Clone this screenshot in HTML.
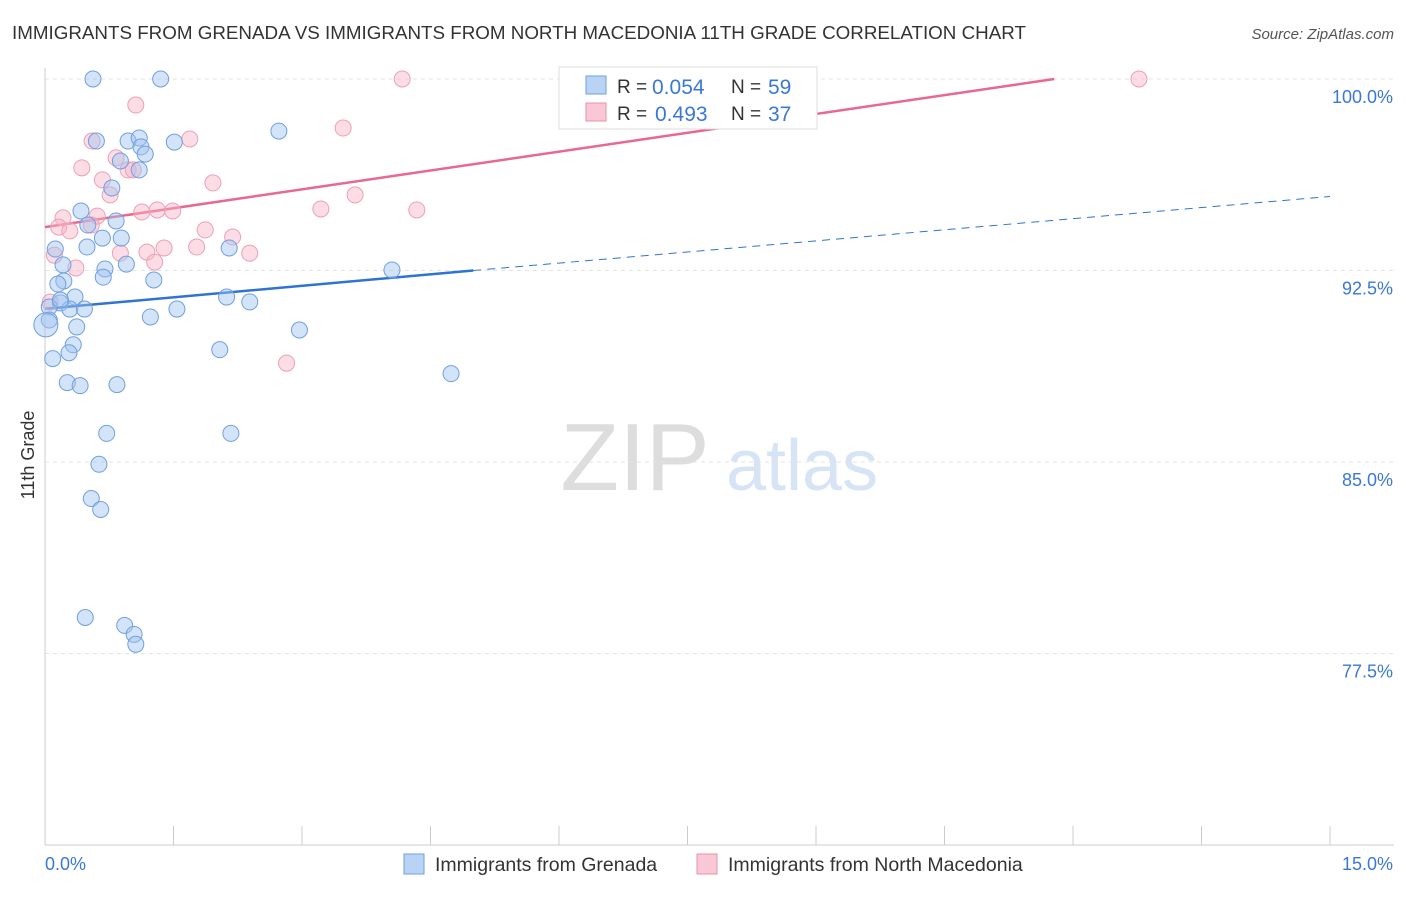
<!DOCTYPE html>
<html><head><meta charset="utf-8"><style>
body{margin:0;background:#fff;font-family:"Liberation Sans",sans-serif;}
svg text{font-family:"Liberation Sans",sans-serif;}
</style></head><body>
<svg id="chart" width="1406" height="892" viewBox="0 0 1406 892">
<text x="12" y="39" font-size="18.8" fill="#333">IMMIGRANTS FROM GRENADA VS IMMIGRANTS FROM NORTH MACEDONIA 11TH GRADE CORRELATION CHART</text>
<text x="1394" y="39" font-size="15" fill="#555" font-style="italic" text-anchor="end">Source: ZipAtlas.com</text>
<g>
<text x="635" y="490" font-size="96" fill="#ddd" font-family="Liberation Serif,serif" text-anchor="middle">ZIP</text>
<text x="802" y="490" font-size="72" fill="#d6e4f5" text-anchor="middle">atlas</text>
</g>
<g id="grid"></g>
<g id="axes"></g>
<g id="lines"></g>
<g id="pts"></g>
<text x="34" y="455" font-size="18" fill="#333" transform="rotate(-90 34 455)" text-anchor="middle">11th Grade</text>
<g>
<rect x="559" y="67" width="258" height="62" fill="#fff" stroke="#ddd"/>
<rect x="586" y="76" width="20" height="18" fill="#b8d3f4" stroke="#6f9fe0"/>
<text x="617" y="93" font-size="19" fill="#333">R =</text>
<text x="652" y="94" font-size="21" fill="#3a78d6">0.054</text>
<text x="731" y="93" font-size="19" fill="#333">N =</text>
<text x="768" y="94" font-size="21" fill="#3a78d6">59</text>
<rect x="586" y="103" width="20" height="18" fill="#f9c7d6" stroke="#e990ac"/>
<text x="617" y="120" font-size="19" fill="#333">R =</text>
<text x="655" y="121" font-size="21" fill="#3a78d6">0.493</text>
<text x="731" y="120" font-size="19" fill="#333">N =</text>
<text x="768" y="121" font-size="21" fill="#3a78d6">37</text>
</g>
<g>
<rect x="404" y="854" width="20" height="20" fill="#b8d3f4" stroke="#6f9fe0"/>
<text x="435" y="871" font-size="19.5" fill="#333">Immigrants from Grenada</text>
<rect x="697" y="854" width="20" height="20" fill="#f9c7d6" stroke="#e990ac"/>
<text x="728" y="871" font-size="19.5" fill="#333">Immigrants from North Macedonia</text>
</g>
</svg>
<script>
const yTicks=[100,92.5,85,77.5];
const yTickLabels=["100.0%","92.5%","85.0%","77.5%"];
const xEndLabels=["0.0%","15.0%"];
const grenadaX=[0.56,1.35,0.6,0.97,1.1,1.12,1.17,0.88,1.1,1.51,2.73,0.78,0.42,0.83,0.5,0.12,0.67,0.89,0.49,2.15,0.21,0.7,0.95,0.68,1.27,4.05,0.22,0.15,0.35,0.18,0.05,0.29,0.46,2.12,2.39,1.54,1.23,0.05,0.37,2.97,0.33,0.28,2.04,0.09,0.26,0.41,0.84,4.74,0.72,2.17,0.63,0.54,0.65,0.47,0.93,1.04,1.06,0.01,0.18];
const grenadaY=[100,100,97.57,97.57,97.69,97.34,97.06,96.79,96.44,97.53,97.96,95.73,94.83,94.44,94.28,93.34,93.77,93.77,93.42,93.38,92.72,92.56,92.75,92.24,92.13,92.52,92.09,91.97,91.46,91.23,91.07,90.99,90.99,91.46,91.27,90.99,90.68,90.56,90.29,90.17,89.59,89.28,89.4,89.05,88.11,87.99,88.03,88.46,86.12,86.12,84.91,83.57,83.14,78.91,78.6,78.25,77.86,90.37,91.34];
const macedoniaX=[4.17,8.08,12.77,1.06,3.48,0.55,1.69,0.83,0.43,0.97,1.03,0.67,1.96,0.76,3.62,3.22,4.34,1.13,1.31,1.49,0.61,0.21,0.16,0.29,0.54,1.87,2.19,1.39,1.19,1.77,0.88,2.39,1.28,0.36,0.11,0.06,2.82];
const macedoniaY=[100,100,100,98.98,98.08,97.57,97.65,96.91,96.52,96.44,96.44,96.05,95.93,95.46,95.46,94.91,94.87,94.79,94.87,94.83,94.63,94.56,94.2,94.05,94.28,94.09,93.81,93.38,93.22,93.42,93.18,93.18,92.83,92.6,93.1,91.26,88.87];
const grenadaFit=[[0,91.0],[5,92.5],[15,95.4]];
const macedoniaFit=[[0,94.2],[11.78,100]];
const X=v=>45+v*(1285/15), Y=v=>79+(100-v)*(191.5/7.5);
const ns="http://www.w3.org/2000/svg";
function mk(p,t,a){const e=document.createElementNS(ns,t);for(const k in a)e.setAttribute(k,a[k]);p.appendChild(e);return e;}
const grid=document.getElementById('grid'),axes=document.getElementById('axes');
yTicks.forEach((v,i)=>{
 const l=mk(grid,'line',{x1:45,x2:1394,y1:Y(v),y2:Y(v),stroke:'#e3e3e3','stroke-dasharray':'4,4'});
 
 
 const t=mk(axes,'text',{x:1393,y:Y(v)+24,'font-size':18,fill:'#3a78d6','text-anchor':'end'});t.textContent=yTickLabels[i];
 
 
});
const xa=mk(axes,'line',{x1:45,x2:1394,y1:845,y2:845,stroke:'#ccc'});


const ya=mk(axes,'line',{x1:45,x2:45,y1:68,y2:845,stroke:'#ccc'});


for(let i=0;i<=10;i++){const t=mk(axes,'line',{x1:X(i*1.5),x2:X(i*1.5),y1:826,y2:845,stroke:'#ccc'});
 
 }
const t0=mk(axes,'text',{x:45,y:870,'font-size':18,fill:'#3a78d6'});t0.textContent=xEndLabels[0];


const t1=mk(axes,'text',{x:1393,y:870,'font-size':18,fill:'#3a78d6','text-anchor':'end'});t1.textContent=xEndLabels[1];


const lines=document.getElementById('lines');
const b1=mk(lines,'line',{x1:X(grenadaFit[0][0]),y1:Y(grenadaFit[0][1]),x2:X(grenadaFit[1][0]),y2:Y(grenadaFit[1][1]),stroke:'#2f74d0','stroke-width':2.5});


const b2=mk(lines,'line',{x1:X(grenadaFit[1][0]),y1:Y(grenadaFit[1][1]),x2:X(grenadaFit[2][0]),y2:Y(grenadaFit[2][1]),stroke:'#2f74d0','stroke-width':1,'stroke-dasharray':'8,6'});


const p1=mk(lines,'line',{x1:X(macedoniaFit[0][0]),y1:Y(macedoniaFit[0][1]),x2:X(macedoniaFit[1][0]),y2:Y(macedoniaFit[1][1]),stroke:'#e8688f','stroke-width':2.5});


const pts=document.getElementById('pts');
macedoniaX.forEach((x,i)=>{const c=mk(pts,'circle',{cx:X(x),cy:Y(macedoniaY[i]),r:8,fill:'rgba(248,180,200,0.45)',stroke:'#eba0b8','stroke-width':1});
 
 });
grenadaX.forEach((x,i)=>{const c=mk(pts,'circle',{cx:X(x),cy:Y(grenadaY[i]),r:i==57?12:8,fill:'rgba(160,195,240,0.45)',stroke:'#6f9fe0','stroke-width':1});
 
 });
</script>
</body></html>
